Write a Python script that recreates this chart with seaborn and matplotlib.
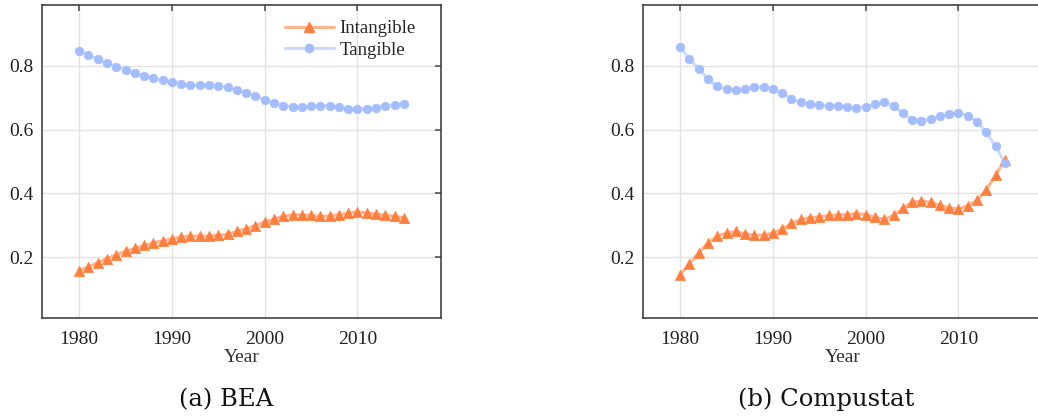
import numpy as np
import pandas as pd
import matplotlib
matplotlib.use("Agg")
import matplotlib.pyplot as plt
from matplotlib.lines import Line2D
import seaborn as sns

years = list(range(1980, 2016))

bea_tangible = [0.846, 0.834, 0.820, 0.808, 0.797, 0.786, 0.777, 0.769, 0.760, 0.754,
                0.748, 0.742, 0.739, 0.738, 0.738, 0.736, 0.732, 0.724, 0.715, 0.706,
                0.693, 0.684, 0.675, 0.671, 0.671, 0.673, 0.675, 0.675, 0.671, 0.665,
                0.663, 0.665, 0.669, 0.673, 0.676, 0.679]
bea_intangible = [0.158, 0.170, 0.183, 0.196, 0.208, 0.219, 0.228, 0.237, 0.245, 0.252,
                  0.258, 0.264, 0.266, 0.267, 0.267, 0.269, 0.272, 0.281, 0.290, 0.299,
                  0.311, 0.320, 0.329, 0.333, 0.333, 0.331, 0.328, 0.329, 0.334, 0.339,
                  0.342, 0.339, 0.335, 0.332, 0.328, 0.324]

comp_tangible = [0.858, 0.822, 0.790, 0.758, 0.735, 0.727, 0.724, 0.728, 0.733, 0.732,
                 0.727, 0.714, 0.696, 0.685, 0.680, 0.676, 0.674, 0.673, 0.671, 0.669,
                 0.671, 0.680, 0.686, 0.674, 0.651, 0.631, 0.628, 0.633, 0.642, 0.649,
                 0.652, 0.644, 0.625, 0.591, 0.547, 0.495]
comp_intangible = [0.145, 0.180, 0.214, 0.245, 0.267, 0.276, 0.281, 0.274, 0.269, 0.270,
                   0.276, 0.289, 0.306, 0.319, 0.324, 0.327, 0.331, 0.333, 0.334, 0.337,
                   0.334, 0.325, 0.319, 0.331, 0.353, 0.372, 0.376, 0.372, 0.363, 0.355,
                   0.351, 0.362, 0.378, 0.412, 0.457, 0.506]

series_labels = ["Intangible", "Tangible"]
captions = ["(a) BEA", "(b) Compustat"]
y_ticks = [0.2, 0.4, 0.6, 0.8]
x_ticks = [1980, 1990, 2000, 2010]

sns.set_style("white")
plt.rcParams["font.family"] = ["Liberation Serif", "DejaVu Serif"]

orange_m = "#ff7f3f"
orange_l = "#ffb48f"
blue_m = "#a4bdff"
blue_l = "#ccdaff"

fig = plt.figure(figsize=(10.38, 4.17), dpi=100)
W, H = 1038, 417
axes_px = [(42, 5, 399, 313), (643, 5, 399, 313)]
caption_x = [226, 826]

datasets = [(bea_intangible, bea_tangible), (comp_intangible, comp_tangible)]

for i, ((l, t, w, h), (intan, tang)) in enumerate(zip(axes_px, datasets)):
    ax = fig.add_axes([l / W, 1 - (t + h) / H, w / W, h / H])
    df = pd.DataFrame({"Year": years, "Intangible": intan, "Tangible": tang})
    sns.lineplot(data=df, x="Year", y="Intangible", ax=ax, color=orange_l, lw=2.2, zorder=2)
    sns.lineplot(data=df, x="Year", y="Tangible", ax=ax, color=blue_l, lw=2.2, zorder=2)
    sns.scatterplot(data=df, x="Year", y="Intangible", ax=ax, marker="^", s=55,
                    color=orange_m, edgecolor=orange_m, linewidth=0.5, zorder=3)
    sns.scatterplot(data=df, x="Year", y="Tangible", ax=ax, marker="o", s=38,
                    color=blue_m, edgecolor=blue_m, linewidth=0.5, zorder=3)
    ax.set_xlim(1976, 2019)
    ax.set_ylim(0.01, 0.99)
    ax.set_xticks(x_ticks)
    ax.set_yticks(y_ticks)
    ax.set_yticklabels([f"{v:.1f}" for v in y_ticks])
    ax.grid(True, color="#e2e2e2", lw=1.0)
    ax.set_axisbelow(True)
    ax.tick_params(direction="in", length=4, width=1.2, color="#555555",
                   top=True, right=(i == 0), labelsize=14, labelcolor="#222222")
    ax.tick_params(axis="x", pad=9)
    ax.tick_params(axis="y", pad=6)
    for sp in ax.spines.values():
        sp.set_visible(True)
        sp.set_color("#333333")
        sp.set_linewidth(1.1)
    if i == 1:
        ax.spines["right"].set_visible(False)
    ax.set_xlabel("Year", fontsize=14, color="#333333", labelpad=1)
    ax.set_ylabel("")
    fig.text(caption_x[i] / W, 1 - 406 / H, captions[i], ha="center", va="baseline",
             fontsize=17.5, family=["DejaVu Serif"], color="#111111")
    if i == 0:
        handles = [
            Line2D([], [], color=orange_l, lw=2.2, marker="^", markersize=7.5,
                   markerfacecolor=orange_m, markeredgecolor=orange_m),
            Line2D([], [], color=blue_l, lw=2.2, marker="o", markersize=6,
                   markerfacecolor=blue_m, markeredgecolor=blue_m),
        ]
        ax.legend(handles, series_labels, loc="upper left", frameon=False,
                  bbox_to_anchor=((285 - l) / w, 1 - (20 - t) / h),
                  fontsize=13.5, handlelength=2.6, handletextpad=0.3,
                  labelspacing=0.25, borderaxespad=0, borderpad=0)

fig.savefig("out.png", dpi=100)
